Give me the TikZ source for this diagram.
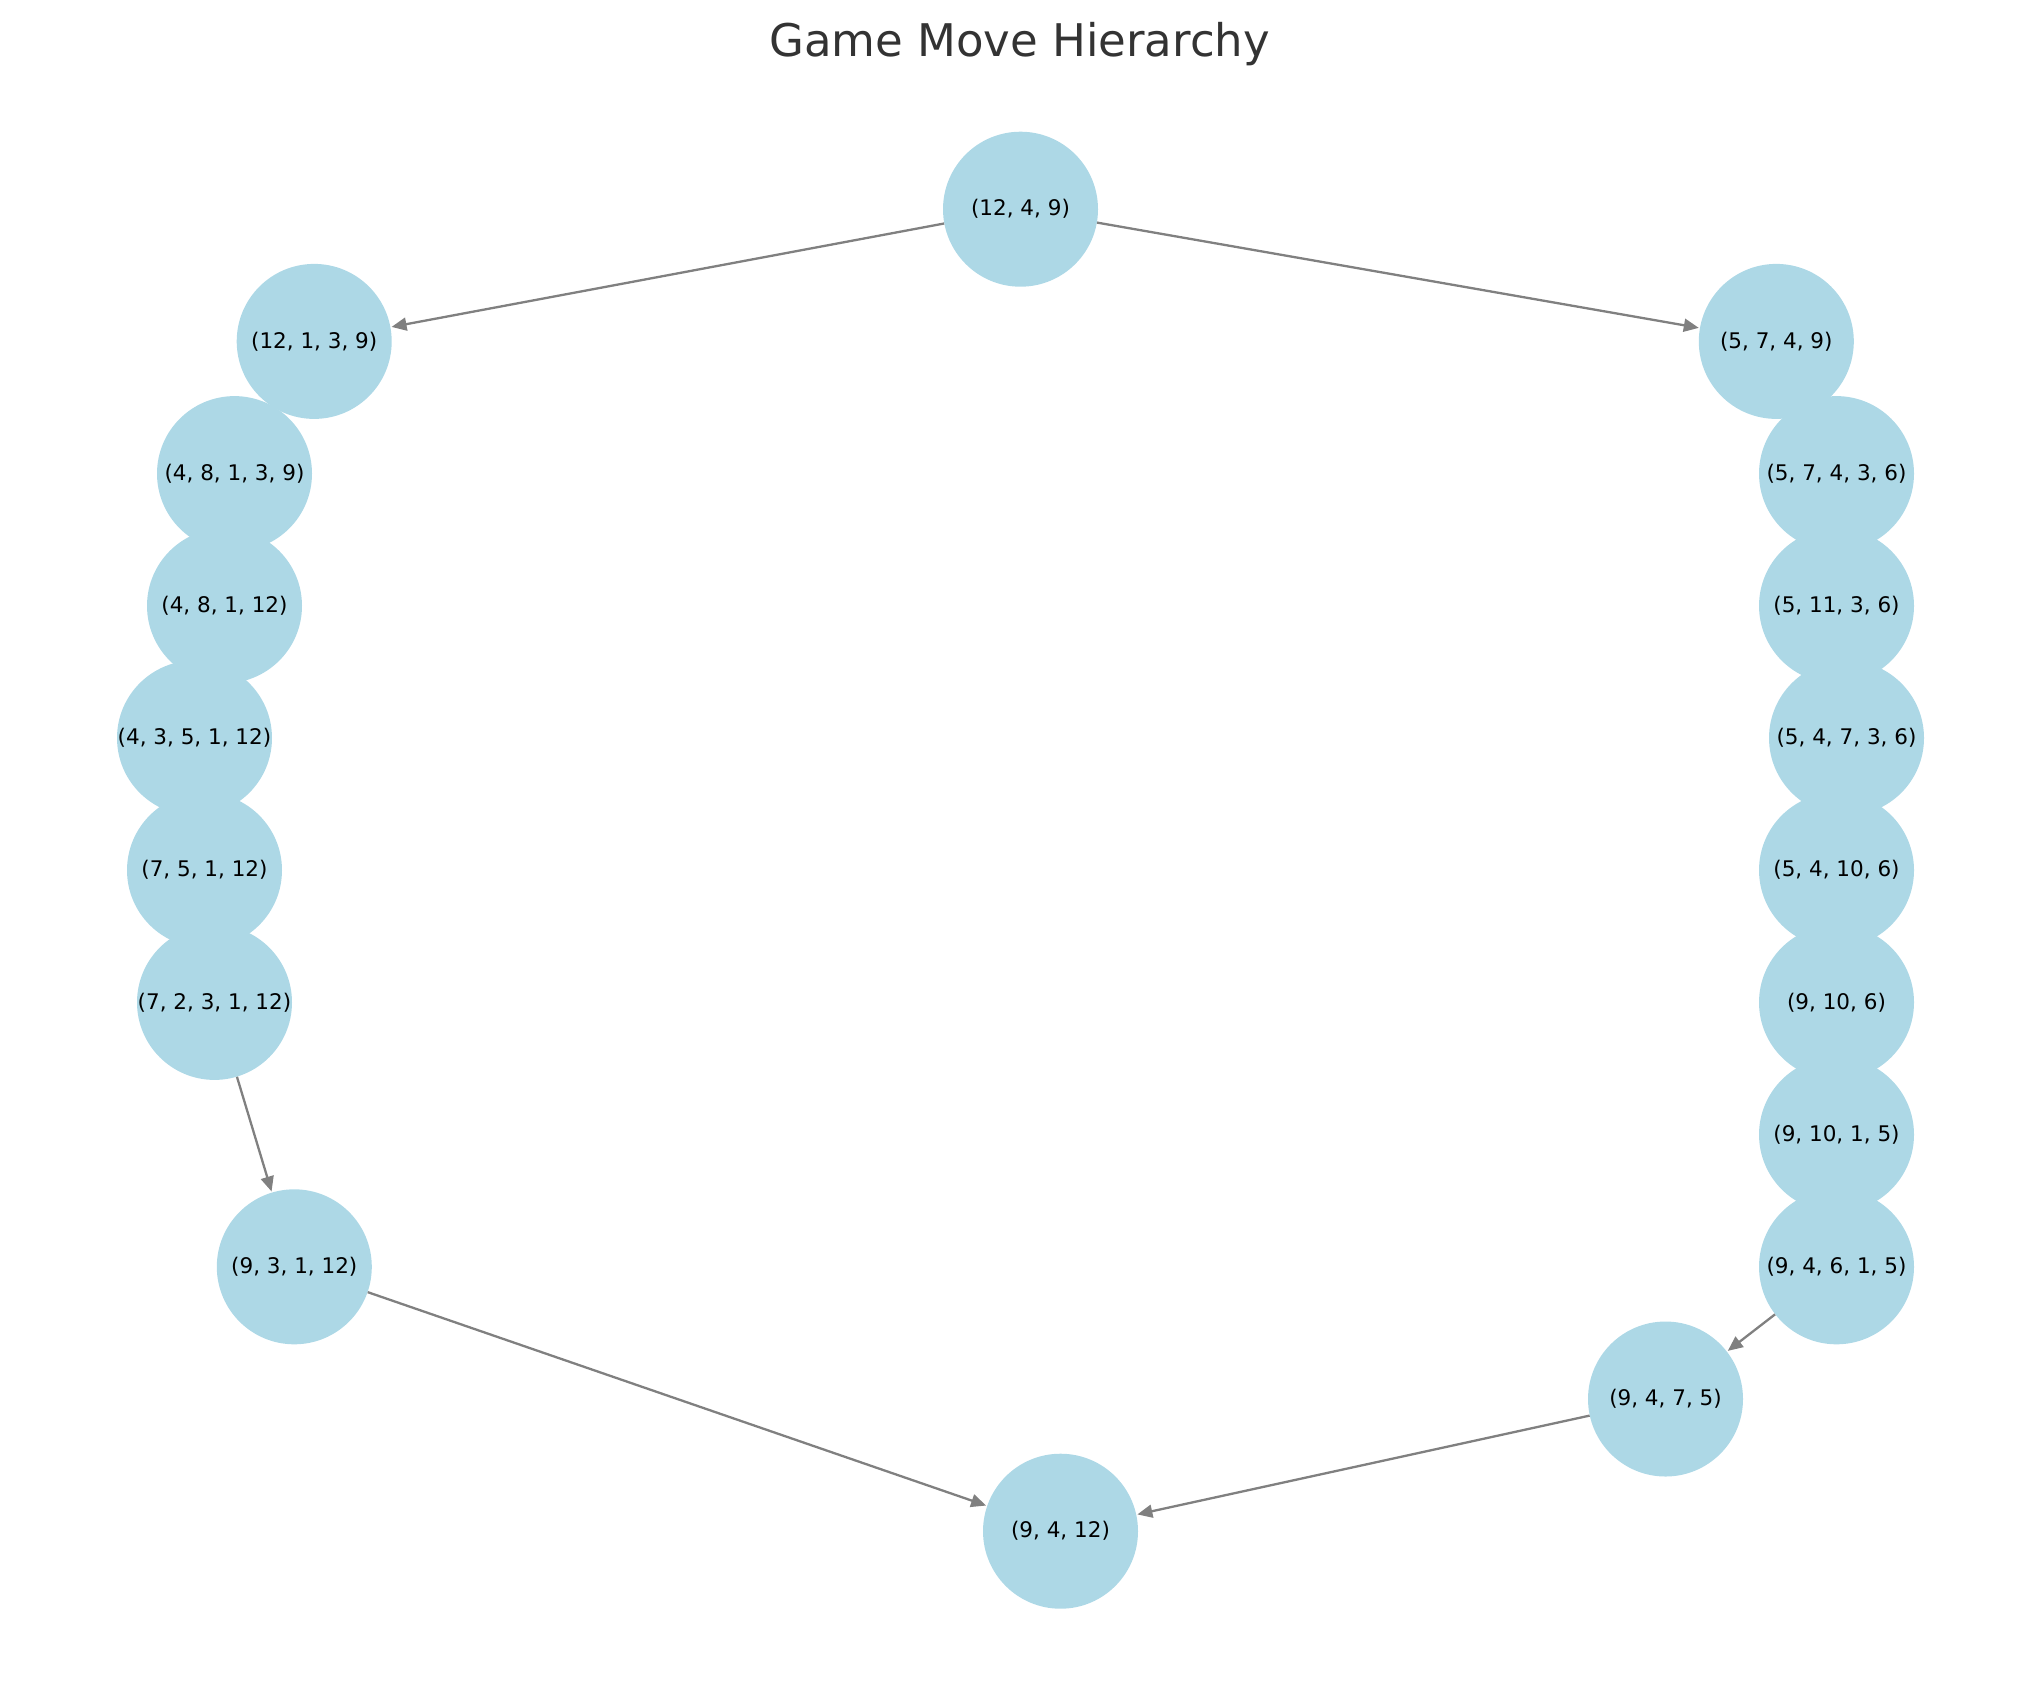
\documentclass[tikz,border=0pt]{standalone}
\usepackage{fontspec}
\setmainfont{DejaVu Sans}
\usetikzlibrary{arrows.meta}
\definecolor{nodeblue}{HTML}{ADD8E6}
\definecolor{edgegray}{HTML}{808080}
\definecolor{titlegray}{HTML}{333333}
\tikzset{
  mv/.style={circle, fill=nodeblue, draw=none, minimum size=155pt, inner sep=0pt,
    font=\fontsize{21.5}{25}\selectfont, text=black},
  edge/.style={draw=edgegray, line width=2.3pt, -{Triangle[length=15pt, width=13pt]}, shorten >=1pt},
}
\begin{document}
\begin{tikzpicture}[x=1pt, y=-1pt]
\useasboundingbox (0,0) rectangle (2039,1690);
\node[anchor=base, text=titlegray, font=\fontsize{45}{54}\selectfont] (title) at (1019.5,56) {Game Move Hierarchy};
% left column
\node[mv] (a0) at (1020.5,209.2) {(12, 4, 9)};
\node[mv] (l1) at (314.2,341.4) {(12, 1, 3, 9)};
\node[mv] (l2) at (234.5,473.6) {(4, 8, 1, 3, 9)};
\node[mv] (l3) at (224.5,605.8) {(4, 8, 1, 12)};
\node[mv] (l4) at (194.5,738.0) {(4, 3, 5, 1, 12)};
\node[mv] (l5) at (204.5,870.2) {(7, 5, 1, 12)};
\node[mv] (l6) at (214.5,1002.4) {(7, 2, 3, 1, 12)};
\node[mv] (l8) at (294.3,1266.8) {(9, 3, 1, 12)};
% right column
\node[mv] (r1) at (1776.3,341.4) {(5, 7, 4, 9)};
\node[mv] (r2) at (1836.5,473.6) {(5, 7, 4, 3, 6)};
\node[mv] (r3) at (1836.5,605.8) {(5, 11, 3, 6)};
\node[mv] (r4) at (1846.5,738.0) {(5, 4, 7, 3, 6)};
\node[mv] (r5) at (1836.5,870.2) {(5, 4, 10, 6)};
\node[mv] (r6) at (1836.5,1002.4) {(9, 10, 6)};
\node[mv] (r7) at (1836.5,1134.6) {(9, 10, 1, 5)};
\node[mv] (r8) at (1836.5,1266.8) {(9, 4, 6, 1, 5)};
\node[mv] (r9) at (1665.5,1399.0) {(9, 4, 7, 5)};
\node[mv] (b) at (1060.5,1531.2) {(9, 4, 12)};
% edges
\draw[edge] (a0) -- (l1);
\draw[edge] (a0) -- (r1);
\draw[edge] (l6) -- (l8);
\draw[edge] (l8) -- (b);
\draw[edge] (r8) -- (r9);
\draw[edge] (r9) -- (b);
\end{tikzpicture}
\end{document}
